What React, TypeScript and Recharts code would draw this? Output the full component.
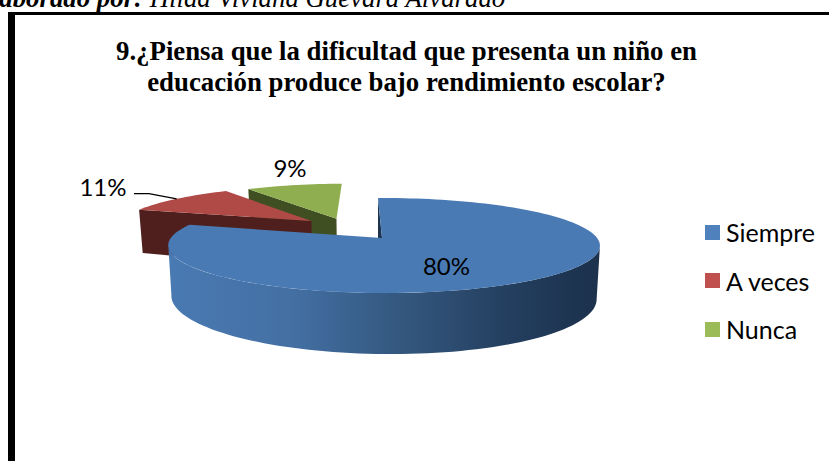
import React from "react";
import { PieChart, Pie, Legend } from "recharts";

const categories = ["Nunca", "A veces", "Siempre"];
const values = [9, 11, 80];
const legendColors = ["#9bbb59", "#c0504d", "#4f81bd"];
const legendOrder = ["Siempre", "A veces", "Nunca"];

const topColors: Record<string, string> = { Nunca: "#8fae50", "A veces": "#b04a47", Siempre: "#4a7ab4" };
const wallColors: Record<string, string> = { Nunca: "#404f22", "A veces": "#4f1f1d", Siempre: "url(#blueWall)" };
const explode: Record<string, [number, number]> = { Nunca: [-0.21, 0.45], "A veces": [-0.335, 0.393], Siempre: [0, 0] };
const labelRadius: Record<string, number> = { Nunca: 1.6, "A veces": 1.6, Siempre: 0.5 };
const labelNudge: Record<string, [number, number]> = { Nunca: [17, -1], "A veces": [-5, -1], Siempre: [1, 7] };

const chartData = categories.map((name, i) => ({ name, value: values[i], fill: legendColors[i] }));

const K = 0.158;
const M = 0.0278;
const RX = 2.13;
const RY = 0.463;
const DEPTH = 0.505;

const RAD = Math.PI / 180;

function project(cx: number, cy: number, r: number, X: number, Y: number, down = false) {
  const w = 1 + K * Y - M * X;
  const x = cx + (r * RX * X) / w;
  const y = cy - (r * RY * Y) / w;
  if (!down) return { x, y };
  return { x: cx + (x - cx) * 0.985, y: y + (r * DEPTH) / Math.pow(w, 1.1) };
}

function rimPoint(cx: number, cy: number, r: number, name: string, angle: number, down = false, f = 1) {
  const [ex, ey] = explode[name];
  return project(cx, cy, r, ex + f * Math.cos(angle * RAD), ey + f * Math.sin(angle * RAD), down);
}

const toPath = (pts: { x: number; y: number }[]) =>
  "M" + pts.map((p) => `${p.x.toFixed(2)},${p.y.toFixed(2)}`).join("L") + "Z";

function arc(a0: number, a1: number) {
  const out: number[] = [];
  const n = Math.max(2, Math.ceil(Math.abs(a1 - a0) / 2));
  for (let i = 0; i <= n; i++) out.push(a0 + ((a1 - a0) * i) / n);
  return out;
}

function SliceShape(props: any) {
  const { cx, cy, outerRadius: r, startAngle, endAngle, name } = props;
  const top = (a: number) => rimPoint(cx, cy, r, name, a);
  const bot = (a: number) => rimPoint(cx, cy, r, name, a, true);
  const apex = rimPoint(cx, cy, r, name, 0, false, 0);
  const apexBottom = rimPoint(cx, cy, r, name, 0, true, 0);
  const isMain = name === "Siempre";
  const faceApex = isMain ? { x: apex.x + 4, y: apex.y } : apex;
  const face = toPath([faceApex, ...arc(startAngle, endAngle).map(top)]);
  const wall = isMain
    ? toPath([top(endAngle), apex, faceApex])
    : toPath([apex, top(endAngle), bot(endAngle), apexBottom]);
  const f0 = Math.max(startAngle, 188);
  const f1 = Math.min(endAngle, 351);
  const outer =
    f1 > f0 ? toPath([...arc(f0, f1).map(top), ...arc(f1, f0).map(bot)]) : null;
  return (
    <g>
      <defs>
        <linearGradient id="blueWall" gradientUnits="userSpaceOnUse" x1={cx - r * RX} x2={cx + r * RX} y1={0} y2={0}>
          <stop offset="0" stopColor="#4a7ab3" />
          <stop offset="0.3" stopColor="#436fa3" />
          <stop offset="0.55" stopColor="#34587f" />
          <stop offset="0.8" stopColor="#243f60" />
          <stop offset="1" stopColor="#1c324d" />
        </linearGradient>
      </defs>
      <path d={wall} fill={isMain ? "#1c324d" : wallColors[name]} />
      {outer && <path d={outer} fill={wallColors[name]} />}
      <path d={face} fill={topColors[name]} />
    </g>
  );
}

function SliceLabel(props: any) {
  const { cx, cy, outerRadius: r, midAngle, name, percent } = props;
  const p = rimPoint(cx, cy, r, name, midAngle, false, labelRadius[name]);
  const [dx, dy] = labelNudge[name];
  const rim = rimPoint(cx, cy, r, name, midAngle);
  return (
    <g>
      {name === "A veces" && (
        <polyline
          points={`${p.x + 26},${p.y + 6} ${p.x + 41},${p.y + 6} ${rim.x},${rim.y}`}
          fill="none"
          stroke="#000"
          strokeWidth={1.3}
        />
      )}
      <text
        x={p.x + dx}
        y={p.y + dy}
        textAnchor="middle"
        dominantBaseline="central"
        fontFamily="Lato, sans-serif"
        fontSize={24}
        fill="#000"
      >
        {`${Math.round(percent * 100)}%`}
      </text>
    </g>
  );
}

function LegendBox(props: any) {
  const items = [...(props.payload || [])].sort(
    (a: any, b: any) => legendOrder.indexOf(a.value) - legendOrder.indexOf(b.value)
  );
  return (
    <div style={{ fontFamily: "Lato, sans-serif", fontSize: 25, color: "#000" }}>
      {items.map((it: any) => (
        <div key={it.value} style={{ display: "flex", alignItems: "center", height: 48.5 }}>
          <span style={{ width: 15, height: 15, background: it.color, marginRight: 6, flex: "none" }} />
          <span>{it.value}</span>
        </div>
      ))}
    </div>
  );
}

export default function App() {
  return (
    <div style={{ position: "fixed", left: 0, top: 0, width: 829, height: 461, background: "#fff", overflow: "hidden" }}>
      <div
        style={{
          position: "absolute",
          left: -26,
          top: -17,
          whiteSpace: "nowrap",
          fontFamily: "'Liberation Serif', serif",
          fontStyle: "italic",
          fontSize: 26.8,
          color: "#000",
        }}
      >
        <b>Elaborado por:</b> Hilda Viviana Guevara Alvarado
      </div>
      <div style={{ position: "absolute", left: 8, top: 12, width: 821, height: 3, background: "#000" }} />
      <div style={{ position: "absolute", left: 8, top: 12, width: 7, height: 449, background: "#000" }} />
      <div
        style={{
          position: "absolute",
          left: 15,
          width: 783,
          top: 36,
          textAlign: "center",
          fontFamily: "'Liberation Serif', serif",
          fontWeight: "bold",
          fontSize: 26.8,
          lineHeight: "31px",
          color: "#000",
        }}
      >
        9.¿Piensa que la dificultad que presenta un niño en
        <br />
        educación produce bajo rendimiento escolar?
      </div>
      <div style={{ position: "absolute", left: 0, top: 0 }}>
        <PieChart width={829} height={461} margin={{ top: 0, right: 0, bottom: 0, left: 0 }}>
          <Pie
            data={chartData}
            dataKey="value"
            nameKey="name"
            cx={378}
            cy={238}
            innerRadius={0}
            outerRadius={100}
            startAngle={90}
            endAngle={450}
            stroke="none"
            isAnimationActive={false}
            shape={SliceShape}
            label={SliceLabel}
            labelLine={false}
          />
          <Legend
            content={LegendBox}
            layout="vertical"
            wrapperStyle={{ position: "absolute", left: 705, top: 208, width: 124 }}
          />
        </PieChart>
      </div>
    </div>
  );
}
